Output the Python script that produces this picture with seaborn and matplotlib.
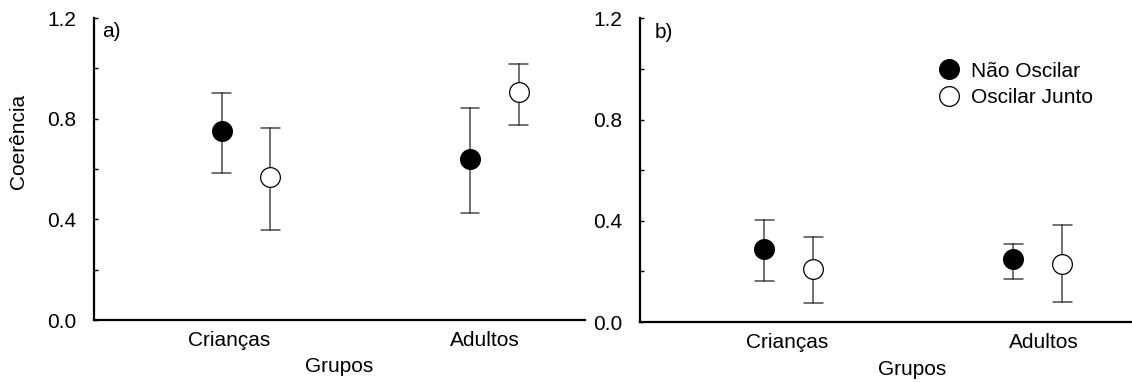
import numpy as np
import pandas as pd
import matplotlib
matplotlib.use("Agg")
import matplotlib.pyplot as plt
from matplotlib.lines import Line2D
from matplotlib.ticker import MultipleLocator
import seaborn as sns

# ---- data ----
groups = ["Crianças", "Adultos"]
conditions = ["Não Oscilar", "Oscilar Junto"]

# panel a) : centre, lower, upper for [Crianças, Adultos]
a_nao_mean = [0.752, 0.640]
a_nao_low = [0.583, 0.426]
a_nao_high = [0.903, 0.844]
a_osc_mean = [0.567, 0.906]
a_osc_low = [0.356, 0.775]
a_osc_high = [0.761, 1.019]

# panel b)
b_nao_mean = [0.290, 0.248]
b_nao_low = [0.161, 0.171]
b_nao_high = [0.402, 0.310]
b_osc_mean = [0.211, 0.231]
b_osc_low = [0.076, 0.079]
b_osc_high = [0.334, 0.385]

y_ticks = [0.0, 0.4, 0.8, 1.2]
y_label = "Coerência"
x_label = "Grupos"
panel_tags = ["a)", "b)"]


def long_table(nao_m, nao_l, nao_h, osc_m, osc_l, osc_h):
    rows = []
    for cond, m, l, h in [(conditions[0], nao_m, nao_l, nao_h),
                          (conditions[1], osc_m, osc_l, osc_h)]:
        for g, mm, ll, hh in zip(groups, m, l, h):
            for v in (ll, mm, hh):
                rows.append({"Grupo": g, "Condição": cond, "Coerência": v})
    return pd.DataFrame(rows)


df_a = long_table(a_nao_mean, a_nao_low, a_nao_high, a_osc_mean, a_osc_low, a_osc_high)
df_b = long_table(b_nao_mean, b_nao_low, b_nao_high, b_osc_mean, b_osc_low, b_osc_high)

sns.set_theme(style="ticks")
plt.rcParams["font.family"] = ["Liberation Sans", "DejaVu Sans"]
plt.rcParams.update({"text.color": "black", "axes.labelcolor": "black",
                     "xtick.color": "black", "ytick.color": "black"})
FS = 15

W, H = 1132, 382
fig = plt.figure(figsize=(W / 100, H / 100), dpi=100)


def px_axes(x0, x1, ytop, ybot):
    return fig.add_axes([x0 / W, 1 - ybot / H, (x1 - x0) / W, (ybot - ytop) / H])


ax_a = px_axes(94, 585, 18, 320)
ax_b = px_axes(640, 1132, 18.3, 322)

palette = {conditions[0]: "black", conditions[1]: "white"}
MS = 14.2

setups = [
    (ax_a, df_a, (-0.6115, 1.365), [-0.068, 0.963], (0.499, -0.155), (0.016, 0.954)),
    (ax_b, df_b, (-0.598, 1.378), [-0.008, 1.024], (0.553, -0.158), (0.030, 0.952)),
]

for i, (ax, df, xl, xt, xlab_pos, tag_pos) in enumerate(setups):
    sns.pointplot(
        data=df, x="Grupo", y="Coerência", hue="Condição",
        order=groups, hue_order=conditions, palette=palette,
        estimator="median", errorbar=lambda v: (v.min(), v.max()),
        dodge=0.196, linestyle="none", markers="o",
        markersize=MS, markeredgecolor="black", markeredgewidth=0.9,
        capsize=0.076, err_kws={"color": "#4a4a4a", "linewidth": 1.1, "zorder": 1},
        legend=False, ax=ax,
    )
    ax.set_xlim(*xl)
    ax.set_ylim(0, 1.2)
    ax.set_yticks(y_ticks)
    ax.set_yticklabels([f"{t:.1f}" for t in y_ticks], fontsize=FS)
    ax.yaxis.set_minor_locator(MultipleLocator(0.2))
    ax.tick_params(axis="y", which="both", direction="in", length=3.2, width=1,
                   pad=13, colors="black")
    ax.set_xticks(xt)
    ax.set_xticklabels(groups, fontsize=FS)
    ax.tick_params(axis="x", length=0, pad=8, colors="black")
    for s in ["top", "right"]:
        ax.spines[s].set_visible(False)
    for s in ["left", "bottom"]:
        ax.spines[s].set_linewidth(1.6)
        ax.spines[s].set_color("black")
    ax.set_xlabel(x_label, fontsize=FS, va="center", color="black")
    ax.xaxis.set_label_coords(*xlab_pos)
    ax.set_ylabel("")
    ax.text(tag_pos[0], tag_pos[1], panel_tags[i], transform=ax.transAxes,
            fontsize=FS, ha="left", va="center", color="black")
    ax.set_facecolor("none")

ax_a.set_ylabel(y_label, fontsize=FS, va="center", color="black")
ax_a.yaxis.set_label_coords(-0.154, 0.591)

handles = [
    Line2D([], [], linestyle="none", marker="o", markersize=MS,
           markerfacecolor=palette[c], markeredgecolor="black", markeredgewidth=0.9)
    for c in conditions
]
fig.legend(handles=handles, labels=conditions, loc="upper left",
           bbox_to_anchor=(938.6 / W, 1 - 61.7 / H), frameon=False, fontsize=FS,
           borderpad=0, handlelength=1.0, handletextpad=0.54, labelspacing=0.35,
           borderaxespad=0, labelcolor="black")

fig.savefig("out.png", dpi=100, facecolor="white")
